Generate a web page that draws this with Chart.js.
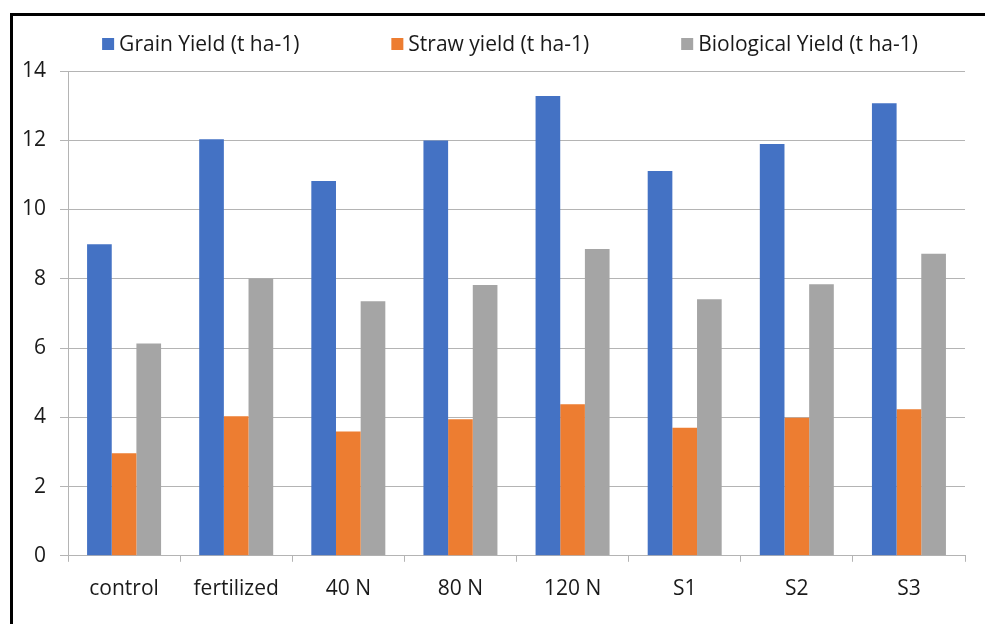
<!DOCTYPE html>
<html>
<head>
<meta charset="utf-8">
<script src="https://cdn.jsdelivr.net/npm/chart.js@4.4.0/dist/chart.umd.min.js"></script>
<style>
  html, body { margin: 0; padding: 0; background: #fff; }
  #wrap { position: relative; width: 985px; height: 624px; overflow: hidden; }
  #frame { position: absolute; left: 10px; top: 13px; width: 1000px; height: 700px;
           border: 3px solid #000; box-sizing: border-box; pointer-events: none; }
  canvas { position: absolute; left: 0; top: 0; }
</style>
</head>
<body>
<div id="wrap">
  <canvas id="c" width="985" height="624"></canvas>
  <div id="frame"></div>
</div>
<script>
const categories = ["control", "fertilized", "40 N", "80 N", "120 N", "S1", "S2", "S3"];
const grainYield = [9.0, 12.03, 10.82, 11.99, 13.28, 11.11, 11.89, 13.07];
const strawYield = [2.96, 4.03, 3.59, 3.94, 4.38, 3.70, 3.99, 4.23];
const biologicalYield = [6.13, 8.01, 7.35, 7.82, 8.86, 7.41, 7.84, 8.72];
const seriesNames = ["Grain Yield (t ha-1)", "Straw yield (t ha-1)", "Biological Yield (t ha-1)"];
const yTicks = [0, 2, 4, 6, 8, 10, 12, 14];

const FONT = "'Open Sans', Lato, 'Liberation Sans', sans-serif";

// Legend drawn from the chart's own datasets (labels + colours)
const topLegend = {
  id: 'topLegend',
  afterDraw(chart) {
    const ctx = chart.ctx;
    ctx.save();
    ctx.font = "21px " + FONT;
    ctx.textBaseline = 'middle';
    ctx.fillStyle = '#1a1a1a';
    const box = 12, boxGap = 5, itemGap = 92, cy = 44, cx = 510;
    const items = chart.data.datasets.map(ds => ({
      text: ds.label, color: ds.backgroundColor, w: box + boxGap + ctx.measureText(ds.label).width
    }));
    const total = items.reduce((s, it) => s + it.w, 0) + itemGap * (items.length - 1);
    let x = cx - total / 2;
    items.forEach(it => {
      ctx.fillStyle = it.color;
      ctx.fillRect(x, cy - box / 2, box, box);
      ctx.fillStyle = '#1a1a1a';
      ctx.textAlign = 'left';
      ctx.fillText(it.text, x + box + boxGap, cy + 1);
      x += it.w + itemGap;
    });
    ctx.restore();
  }
};

new Chart(document.getElementById('c'), {
  type: 'bar',
  data: {
    labels: categories,
    datasets: [
      { label: seriesNames[0], data: grainYield, backgroundColor: '#4472C4' },
      { label: seriesNames[1], data: strawYield, backgroundColor: '#ED7D31' },
      { label: seriesNames[2], data: biologicalYield, backgroundColor: '#A5A5A5' }
    ]
  },
  options: {
    responsive: false,
    animation: false,
    devicePixelRatio: 1,
    layout: { padding: { left: 8, right: 20, top: 71, bottom: 7 } },
    datasets: { bar: { categoryPercentage: 0.66, barPercentage: 1.0 } },
    plugins: {
      legend: { display: false },
      tooltip: { enabled: false }
    },
    scales: {
      x: {
        grid: { display: true, drawOnChartArea: false, drawTicks: true, tickLength: 6, color: '#b4b4b4', offset: true },
        border: { color: '#b4b4b4', width: 1 },
        ticks: { color: '#1a1a1a', font: { family: FONT, size: 21 }, padding: 15 }
      },
      y: {
        min: 0, max: 14,
        afterBuildTicks: (axis) => { axis.ticks = yTicks.map(v => ({ value: v })); },
        grid: { color: '#b4b4b4', tickLength: 8, lineWidth: 1 },
        border: { color: '#b4b4b4', width: 1 },
        ticks: { color: '#1a1a1a', font: { family: FONT, size: 21 }, padding: 14 }
      }
    }
  },
  plugins: [topLegend]
});
</script>
</body>
</html>
